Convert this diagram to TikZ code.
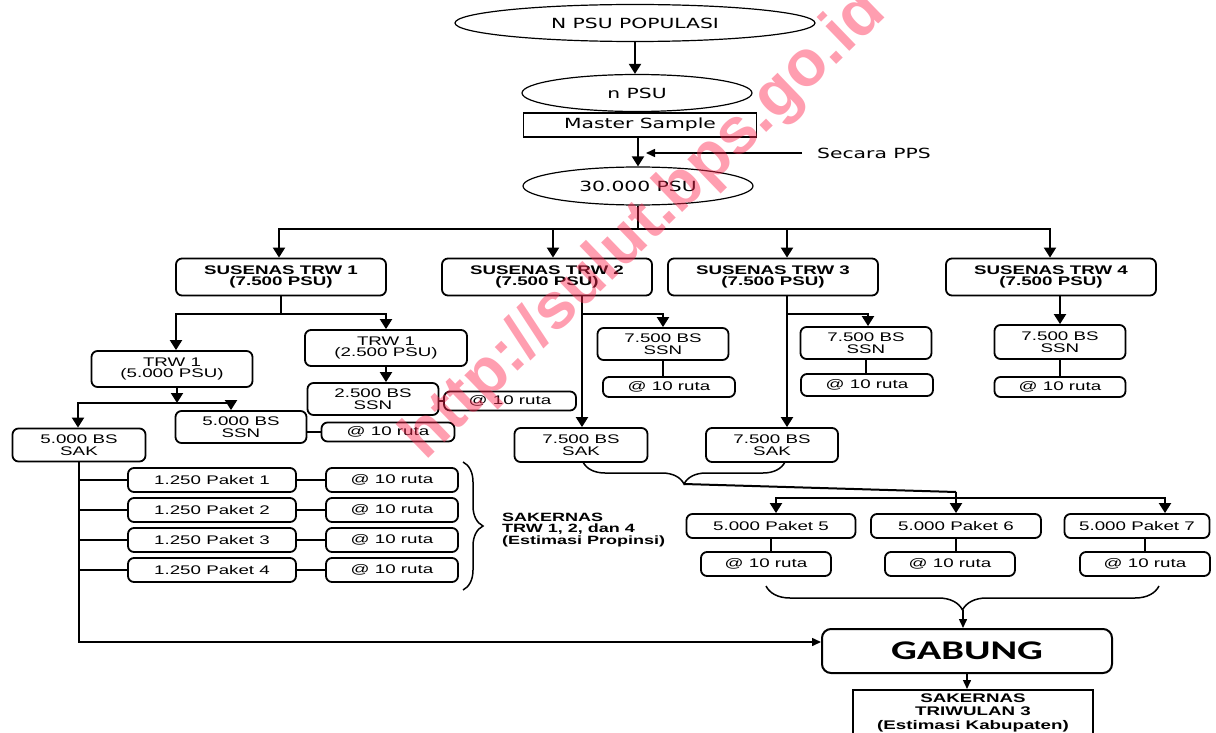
\documentclass[tikz,border=0pt]{standalone}
\usepackage{fontspec}
\setmainfont{Liberation Sans}[FakeStretch=1.5]
\newfontfamily\vfont{DejaVu Sans}[FakeStretch=1.45]
\newfontfamily\cfont{Carlito}[FakeStretch=1.5]
\newfontfamily\wfont{Liberation Sans}
\usetikzlibrary{arrows.meta,shapes.geometric,decorations.pathreplacing,calc}
\definecolor{wmcol}{RGB}{255,40,80}
\begin{document}
\begin{tikzpicture}[x=1pt,y=-1pt,line join=miter,
  bx/.style={draw, line width=1.8pt, rounded corners=6pt, inner sep=0pt, align=center, fill=white,
    font=\fontsize{12.5}{11.8}\selectfont},
  sus/.style={bx, font=\fontsize{12.5}{11.8}\selectfont\bfseries, minimum width=210pt, minimum height=37pt},
  mid/.style={bx, minimum width=131pt, minimum height=32pt},
  ruta/.style={bx, minimum width=132pt, minimum height=20pt},
  pak/.style={bx, minimum width=168pt, minimum height=24pt},
  ell/.style={draw, ellipse, line width=1.2pt, inner sep=0pt, font=\vfont\fontsize{14}{16}\selectfont},
  conn/.style={line width=2pt},
  arr/.style={line width=2pt, -{Triangle[width=12pt,length=10pt]}},
  thinl/.style={line width=1.5pt},
  thinarr/.style={line width=1.5pt, -{Triangle[width=8pt,length=9pt]}},
  brc/.style={line width=1.5pt, decorate},
]
\useasboundingbox (0,0) rectangle (1216,733);

% top part
\node[ell, minimum width=360pt, minimum height=37pt] (e1) at (635,23) {N PSU POPULASI};
\node[ell, minimum width=230pt, minimum height=37pt] (e2) at (637,93) {n PSU};
\node[draw, line width=1.5pt, minimum width=233pt, minimum height=24pt, inner sep=0pt, fill=white,
  font=\vfont\fontsize{14}{16}\selectfont] (ms) at (640,125) {Master Sample};
\node[ell, minimum width=230pt, minimum height=38pt] (e3) at (638,186) {30.000 PSU};
\node[anchor=west, inner sep=0pt, font=\vfont\fontsize{14}{16}\selectfont] (pps) at (817,153) {Secara PPS};
\coordinate (ppsS) at (802,153);
\coordinate (ppsT) at (646,153);

\draw[arr] (e1.south) -- (e1.south |- e2.north);
\draw[arr] (e3.north |- ms.south) -- (e3.north);
\draw[thinarr] (ppsS) -- (ppsT);

% susenas row
\node[sus] (s1) at (281,277) {SUSENAS TRW 1\\(7.500 PSU)};
\node[sus] (s2) at (547,277) {SUSENAS TRW 2\\(7.500 PSU)};
\node[sus] (s3) at (773,277) {SUSENAS TRW 3\\(7.500 PSU)};
\node[sus] (s4) at (1051,277) {SUSENAS TRW 4\\(7.500 PSU)};

\coordinate (bar) at (638,229);
\coordinate (bL) at (279,229);
\coordinate (b2) at (553,229);
\coordinate (b3) at (787,229);
\coordinate (bR) at (1050,229);
\draw[conn] (e3.south) -- (bar);
\draw[arr] (bar) -- (bL) -- (bL |- s1.north);
\draw[arr] (bar) -- (bR) -- (bR |- s4.north);
\draw[arr] (b2) -- (b2 |- s2.north);
\draw[arr] (b3) -- (b3 |- s3.north);

% TRW 1 branch
\node[bx, minimum width=161pt, minimum height=36pt] (t5) at (172,369) {TRW 1\\(5.000 PSU)};
\node[bx, minimum width=162pt, minimum height=36pt] (t25) at (386,348) {TRW 1\\(2.500 PSU)};
\node[mid] (ssn25) at (373,399) {2.500 BS\\SSN};
\node[ruta, minimum height=19pt] (r25) at (510,401) {@ 10 ruta};
\node[mid] (ssn5) at (241,427) {5.000 BS\\SSN};
\node[ruta, minimum width=133pt, minimum height=19pt] (r5) at (388,432) {@ 10 ruta};
\node[mid, minimum width=133pt, minimum height=33pt] (sak5) at (79,445) {5.000 BS\\SAK};

\coordinate (j1) at (281,314);
\coordinate (j1L) at (176,314);
\coordinate (j1R) at (386,314);
\draw[conn] (s1.south) -- (j1);
\draw[arr] (j1) -- (j1L) -- (j1L |- t5.north);
\draw[arr] (j1) -- (j1R) -- (j1R |- t25.north);
\draw[arr] (t25.south) -- (t25.south |- ssn25.north);
\draw[thinl] (ssn25.east |- r25.west) -- (r25.west);

\coordinate (j2) at (177,403);
\coordinate (j2L) at (78,403);
\coordinate (j2R) at (231,403);
\draw[arr] (t5.south -| j2) -- (j2);
\draw[arr] (j2L) -- (j2R) -- (j2R |- ssn5.north);
\draw[arr] (j2R) -- (j2L) -- (j2L |- sak5.north);
\draw[thinl] (ssn5.east |- r5.west) -- (r5.west);

% paket 1-4
\foreach \i/\y in {1/480,2/510,3/540,4/570}{
  \node[pak] (p\i) at (212,\y) {1.250 Paket \i};
  \node[ruta, minimum height=24pt] (q\i) at (392,\y) {@ 10 ruta};
  \draw[thinl] (sak5.south |- p\i.west) -- (p\i.west);
  \draw[thinl] (p\i.east) -- (q\i.west);
}
\draw[brc, decoration={brace, amplitude=20pt}] (463,462) -- (463,590);
\node[anchor=west, inner sep=0pt, align=left, font=\bfseries\fontsize{12}{11.8}\selectfont] (lbl) at (502,530)
  {SAKERNAS\\TRW 1, 2, dan 4\\(Estimasi Propinsi)};

% TRW 2 branch
\node[mid] (ssn2) at (663,344) {7.500 BS\\SSN};
\node[ruta] (r2) at (669,387) {@ 10 ruta};
\node[mid, minimum width=133pt, minimum height=34pt] (sak2) at (581,445) {7.500 BS\\SAK};
\coordinate (k2) at (582,314);
\coordinate (k2R) at (663,314);
\draw[arr] (s2.south -| k2) -- (k2 |- sak2.north);
\draw[arr] (k2) -- (k2R) -- (k2R |- ssn2.north);
\draw[thinl] (ssn2.south) -- (ssn2.south |- r2.north);

% TRW 3 branch
\node[mid] (ssn3) at (866,343) {7.500 BS\\SSN};
\node[ruta, minimum height=22pt] (r3) at (867,385) {@ 10 ruta};
\node[mid, minimum width=132pt, minimum height=34pt] (sak3) at (772,445) {7.500 BS\\SAK};
\coordinate (k3) at (787,314);
\coordinate (k3R) at (868,314);
\draw[arr] (s3.south -| k3) -- (k3 |- sak3.north);
\draw[arr] (k3) -- (k3R) -- (k3R |- ssn3.north);
\draw[thinl] (ssn3.south) -- (ssn3.south |- r3.north);

% TRW 4 branch
\node[mid, minimum height=34pt] (ssn4) at (1060,342) {7.500 BS\\SSN};
\node[ruta, minimum width=131pt] (r4) at (1060,387) {@ 10 ruta};
\draw[arr] (s4.south -| ssn4.north) -- (ssn4.north);
\draw[thinl] (ssn4.south) -- (ssn4.south |- r4.north);

% brace under SAK boxes and paket 5-7
\draw[brc, decoration={brace, amplitude=22pt, mirror}] (583,462) -- (785,462);
\coordinate (bt) at (684,484);
\coordinate (m6) at (956,492);
\coordinate (h5) at (776,498);
\coordinate (h7) at (1165,498);
\node[pak, minimum width=169pt] (pk5) at (771,526) {5.000 Paket 5};
\node[pak, minimum width=170pt] (pk6) at (956,526) {5.000 Paket 6};
\node[pak, minimum width=145pt] (pk7) at (1137,526) {5.000 Paket 7};
\node[ruta, minimum width=130pt, minimum height=24pt] (rr5) at (766,564) {@ 10 ruta};
\node[ruta, minimum width=130pt, minimum height=24pt] (rr6) at (950,564) {@ 10 ruta};
\node[ruta, minimum width=130pt, minimum height=24pt] (rr7) at (1145,564) {@ 10 ruta};
\draw[conn] (bt) -- (m6);
\draw[arr] (m6) -- (m6 |- pk6.north);
\draw[arr] (h7) -- (h5) -- (h5 |- pk5.north);
\draw[arr] (h5) -- (h7) -- (h7 |- pk7.north);
\draw[thinl] (pk5.south) -- (pk5.south |- rr5.north);
\draw[thinl] (pk6.south) -- (pk6.south |- rr6.north);
\draw[thinl] (rr7.north |- pk7.south) -- (rr7.north);

% lower brace, gabung
\draw[brc, decoration={brace, amplitude=24pt, mirror}] (766,586) -- (1159,586);
\coordinate (lt) at (963,610);
\node[draw, line width=2pt, rounded corners=9pt, minimum width=290pt, minimum height=44pt, inner sep=0pt,
  font=\cfont\bfseries\fontsize{27}{30}\selectfont] (gab) at (967,651) {GABUNG};
\node[draw, line width=1.5pt, minimum width=240pt, minimum height=46pt, inner sep=0pt, anchor=north, align=center,
  font=\bfseries\fontsize{12.5}{13.5}\selectfont] (bot) at (973,689) {SAKERNAS\\TRIWULAN 3\\(Estimasi Kabupaten)};
\draw[thinarr] (lt) -- (lt |- gab.north);
\draw[thinarr] (gab.south) -- (gab.south |- bot.north);
\coordinate (cg) at (79,642);
\draw[thinarr] (sak5.south) -- (cg) -- (cg -| gab.west);

% watermark
\node[rotate=44, inner sep=0pt, text=wmcol, text opacity=0.45, font=\wfont\bfseries\fontsize{65}{65}\selectfont] (wm) at (645,226) {http://sulut.bps.go.id};
\end{tikzpicture}
\end{document}
